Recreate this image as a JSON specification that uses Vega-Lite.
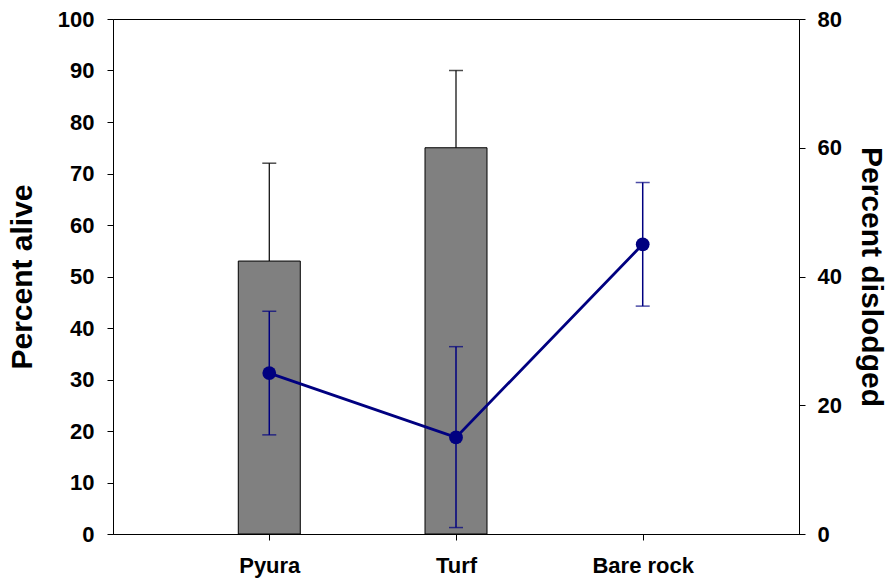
{
  "$schema": "https://vega.github.io/schema/vega-lite/v6.json",
  "autosize": "none",
  "padding": {"left": 113, "top": 19, "right": 95, "bottom": 54},
  "width": 686,
  "height": 515,
  "background": "white",
  "config": {
    "font": "Liberation Sans",
    "view": {"stroke": "black", "strokeWidth": 1},
    "axis": {
      "grid": false,
      "domainColor": "black",
      "tickColor": "black",
      "labelColor": "black",
      "titleColor": "black",
      "labelFont": "Liberation Sans",
      "titleFont": "Liberation Sans",
      "labelFontWeight": "bold",
      "titleFontWeight": "bold",
      "labelFontSize": 22,
      "titleFontSize": 30
    }
  },
  "data": {
    "values": [
      {"site": "Pyura", "alive": 53, "alive_hi": 72, "dis": 25, "dis_lo": 15.4, "dis_hi": 34.6},
      {"site": "Turf", "alive": 75, "alive_hi": 90, "dis": 15, "dis_lo": 1, "dis_hi": 29.1},
      {"site": "Bare rock", "alive": null, "alive_hi": null, "dis": 45, "dis_lo": 35.4, "dis_hi": 54.6}
    ]
  },
  "encoding": {
    "x": {
      "field": "site",
      "type": "ordinal",
      "sort": ["Pyura", "Turf", "Bare rock"],
      "scale": {"type": "point", "padding": 0.837},
      "axis": {"title": null, "labelAngle": 0, "tickSize": 6, "labelPadding": 15, "domain": true}
    }
  },
  "layer": [
    {
      "layer": [
        {
          "mark": {"type": "bar", "size": 62, "fill": "#808080", "stroke": "black", "strokeWidth": 1},
          "encoding": {
            "y": {"field": "alive", "type": "quantitative", "scale": {"domain": [0, 100]},
              "axis": {"title": "Percent alive", "values": [0,10,20,30,40,50,60,70,80,90,100], "tickSize": 6, "labelPadding": 13, "titlePadding": 20}}
          }
        },
        {
          "mark": {"type": "rule", "color": "black", "strokeWidth": 1.2},
          "encoding": {
            "y": {"field": "alive", "type": "quantitative"},
            "y2": {"field": "alive_hi"}
          }
        },
        {
          "mark": {"type": "tick", "color": "black", "size": 14, "thickness": 1.5},
          "encoding": {
            "y": {"field": "alive_hi", "type": "quantitative"}
          }
        }
      ]
    },
    {
      "layer": [
        {
          "mark": {"type": "rule", "color": "#000080", "strokeWidth": 1.5},
          "encoding": {
            "y": {"field": "dis_lo", "type": "quantitative", "scale": {"domain": [0, 80]},
              "axis": {"orient": "right", "title": "Percent dislodged", "values": [0,20,40,60,80], "tickSize": 6, "labelPadding": 12, "titlePadding": 14}},
            "y2": {"field": "dis_hi"}
          }
        },
        {
          "mark": {"type": "tick", "color": "#000080", "size": 14, "thickness": 1.5},
          "encoding": {"y": {"field": "dis_lo", "type": "quantitative"}}
        },
        {
          "mark": {"type": "tick", "color": "#000080", "size": 14, "thickness": 1.5},
          "encoding": {"y": {"field": "dis_hi", "type": "quantitative"}}
        },
        {
          "mark": {"type": "line", "color": "#000080", "strokeWidth": 2.8},
          "encoding": {"y": {"field": "dis", "type": "quantitative"}}
        },
        {
          "mark": {"type": "point", "filled": true, "color": "#000080", "size": 190, "opacity": 1},
          "encoding": {"y": {"field": "dis", "type": "quantitative"}}
        }
      ]
    }
  ],
  "resolve": {"scale": {"y": "independent"}}
}
